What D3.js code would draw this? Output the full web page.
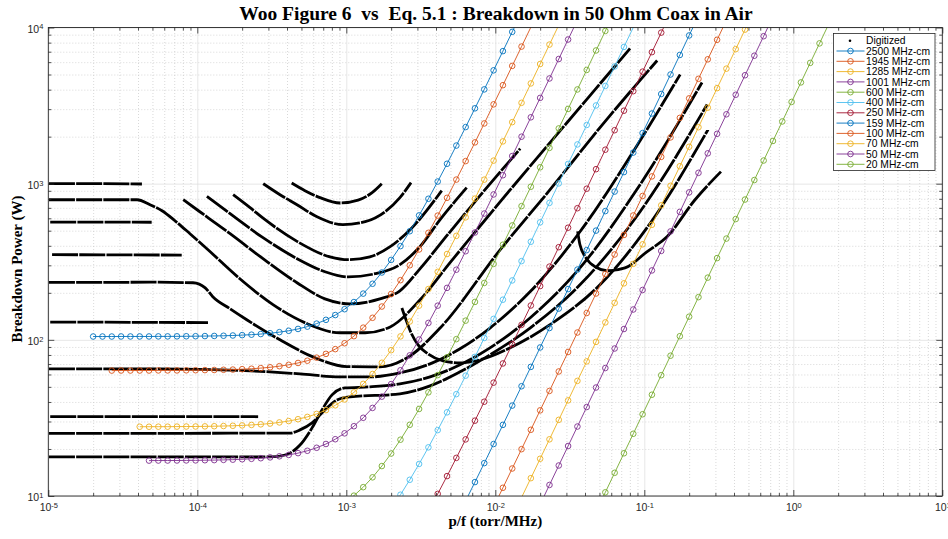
<!DOCTYPE html>
<html>
<head>
<meta charset="utf-8">
<script src="https://cdn.jsdelivr.net/npm/d3@7"></script>
<style>
  body { margin: 0; background: #fff; }
  svg { display: block; }
</style>
</head>
<body>
<div id="chart"></div>
<script>

// p/f values (torr/MHz) where the Eq. 5.1 curves have their markers
var pfGrid = [
  2.000e-5, 2.310e-5, 2.667e-5, 3.080e-5, 3.557e-5, 4.107e-5, 4.743e-5, 5.477e-5,
  6.325e-5, 7.303e-5, 8.434e-5, 9.739e-5, 1.125e-4, 1.299e-4, 1.500e-4, 1.732e-4,
  2.000e-4, 2.310e-4, 2.667e-4, 3.080e-4, 3.557e-4, 4.107e-4, 4.743e-4, 5.477e-4,
  6.325e-4, 7.303e-4, 8.434e-4, 9.739e-4, 1.125e-3, 1.299e-3, 1.500e-3, 1.732e-3,
  2.000e-3, 2.310e-3, 2.667e-3, 3.080e-3, 3.557e-3, 4.107e-3, 4.743e-3, 5.477e-3,
  6.325e-3, 7.303e-3, 8.434e-3, 9.739e-3, 1.125e-2, 1.299e-2, 1.500e-2, 1.732e-2,
  2.000e-2, 2.310e-2, 2.667e-2, 3.080e-2, 3.557e-2, 4.107e-2, 4.743e-2, 5.477e-2,
  6.325e-2, 7.303e-2, 8.434e-2, 9.739e-2, 0.1125, 0.1299, 0.1500, 0.1732,
  0.2000, 0.2310, 0.2667, 0.3080, 0.3557, 0.4107, 0.4743, 0.5477,
  0.6325, 0.7303, 0.8434, 0.9739, 1.125, 1.299, 1.500, 1.732
];

var fdLabels = ["2500 MHz-cm", "1945 MHz-cm", "1285 MHz-cm", "1001 MHz-cm", "600 MHz-cm", "400 MHz-cm",
  "250 MHz-cm", "159 MHz-cm", "100 MHz-cm", "70 MHz-cm", "50 MHz-cm", "20 MHz-cm"];

// index in pfGrid of the first marker of each curve
var fdStart = [0, 2, 5, 6, 26, 32, 36, 39, 43, 45, 48, 54];

// breakdown power (W) of each curve, one value per marker
var bp2500 = [105.0, 105.0, 105.0, 105.1, 105.1, 105.1, 105.1, 105.2, 105.2, 105.3, 105.4, 105.5, 105.7, 105.9,
  106.2, 106.6, 107.2, 107.9, 108.9, 110.2, 112.0, 114.3, 117.4, 121.5, 127.0, 134.3, 144.1, 157.1, 174.5, 197.7,
  228.6, 269.9, 324.9, 398.2, 496.0, 626.4, 800.3, 1032, 1341, 1754, 2304, 3037, 4015, 5319, 7058, 9377, 12469];
var bp1945 = [63.55, 63.6, 63.6, 63.6, 63.6, 63.7, 63.7, 63.7, 63.8, 63.9, 64.0, 64.1, 64.3, 64.5, 64.9, 65.3,
  65.9, 66.7, 67.8, 69.2, 71.1, 73.5, 76.9, 81.3, 87.2, 95.1, 105.6, 119.7, 138.4, 163.4, 196.7, 241.0, 300.2,
  379.1, 484.4, 624.6, 811.7, 1062, 1395, 1838, 2430, 3220, 4272, 5676, 7547, 10043];
var bp1285 = [27.77, 27.77, 27.79, 27.79, 27.82, 27.85, 27.87, 27.92, 27.98, 28.06, 28.16, 28.32, 28.51, 28.77,
  29.11, 29.59, 30.20, 31.02, 32.10, 33.55, 35.48, 38.07, 41.51, 46.10, 52.23, 60.40, 71.31, 85.84, 105.2, 131.0,
  165.5, 211.4, 272.6, 354.4, 463.3, 608.6, 802.4, 1061, 1405, 1865, 2477, 3294, 4384, 5837, 7774, 10358];
var bp1001 = [16.85, 16.87, 16.87, 16.88, 16.90, 16.91, 16.95, 16.98, 17.03, 17.09, 17.19, 17.30, 17.46, 17.67,
  17.96, 18.32, 18.82, 19.48, 20.36, 21.53, 23.10, 25.19, 27.98, 31.69, 36.65, 43.27, 52.09, 63.84, 79.52, 100.4,
  128.3, 165.5, 215.1, 281.2, 369.3, 486.9, 643.7, 852.7, 1132, 1503, 1999, 2660, 3542, 4717, 6285, 8376, 11164];
var bp600 = [8.30, 9.05, 10.05, 11.39, 13.17, 15.55, 18.71, 22.94, 28.57, 36.08, 46.10, 59.46, 77.27, 101.0, 132.7,
  174.9, 231.3, 306.4, 406.5, 540.1, 718.2, 955.8, 1273, 1695, 2258, 3009, 4011, 5347, 7128, 9503, 12670];
var bp400 = [8.32, 10.19, 12.70, 16.04, 20.49, 26.42, 34.34, 44.90, 58.97, 77.75, 102.8, 136.2, 180.7, 240.1, 319.2,
  424.8, 565.6, 753.3, 1004, 1338, 1783, 2376, 3168, 4224, 5631, 7509, 10012];
var bp250 = [8.00, 10.32, 13.41, 17.54, 23.04, 30.37, 40.15, 53.19, 70.58, 93.77, 124.7, 165.9, 220.9, 294.3, 392.1,
  522.5, 696.4, 928.3, 1238, 1650, 2200, 2933, 3911, 5215, 6954, 9273, 12365];
var bp159 = [7.09, 9.32, 12.28, 16.24, 21.52, 28.55, 37.93, 50.44, 67.12, 89.36, 119.0, 158.6, 211.3, 281.7, 375.5,
  500.5, 667.4, 889.8, 1186, 1582, 2109, 2813, 3751, 5001, 6670, 8894, 11860];
var bp100 = [8.51, 11.29, 15.00, 19.95, 26.55, 35.35, 47.08, 62.73, 83.59, 111.4, 148.5, 198.0, 264.0, 352.0, 469.3,
  625.8, 834.4, 1113, 1484, 1978, 2638, 3518, 4691, 6256, 8343, 11125];
var bp70 = [7.35, 9.78, 13.01, 17.32, 23.07, 30.74, 40.96, 54.59, 72.77, 97.02, 129.3, 172.5, 230.0, 306.6, 408.9,
  545.2, 727.0, 969.4, 1293, 1724, 2299, 3066, 4088, 5451, 7269, 9693, 12927];
var bp50 = [8.84, 11.77, 15.68, 20.90, 27.85, 37.13, 49.50, 65.99, 87.99, 117.3, 156.4, 208.6, 278.2, 370.9, 494.6,
  659.6, 879.5, 1173, 1564, 2086, 2781, 3709, 4946, 6595, 8795, 11728];
var bp20 = [7.92, 10.56, 14.08, 18.77, 25.03, 33.38, 44.51, 59.35, 79.14, 105.5, 140.7, 187.7, 250.2, 333.7, 445.0,
  593.4, 791.3, 1055, 1407, 1877, 2502, 3337, 4450, 5934, 7913, 10552];

var eqCurves = [bp2500, bp1945, bp1285, bp1001, bp600, bp400, bp250, bp159, bp100, bp70, bp50, bp20];

var dg1000 = [[1.01e-5, 1000], [2.2e-5, 1000], [4.25e-5, 995]];
var dg560 = [[1.03e-5, 568], [4.94e-5, 566]];
var dg350 = [[1.06e-5, 351], [7.86e-5, 349]];
var dg130 = [[1.03e-5, 130], [1.18e-4, 129]];
var dg32 = [[1.03e-5, 32.2], [2.56e-4, 32.2]];
var dgU1 = [[4.30e-4, 1010], [5.28e-4, 902], [6.66e-4, 814], [9.07e-4, 752], [1.20e-3, 784], [1.49e-3, 876], [1.73e-3, 1000]];
var dgU2 = [[2.77e-4, 1000], [3.59e-4, 850], [4.67e-4, 733], [6.36e-4, 614], [9.50e-4, 546], [1.34e-3, 571],
  [1.82e-3, 661], [2.29e-3, 814], [2.72e-3, 1015]];
var dgU3 = [[1.74e-4, 850], [2.26e-4, 702], [2.85e-4, 588], [4.67e-4, 427], [7.77e-4, 340], [1.03e-3, 326],
  [1.44e-3, 340], [1.97e-3, 395], [2.68e-3, 507], [4.37e-3, 902]];
var dgU4 = [[1.16e-4, 829], [1.66e-4, 642], [2.76e-4, 451], [4.67e-4, 331], [7.19e-4, 273], [1.03e-3, 253],
  [1.56e-3, 265], [2.29e-3, 303], [3.12e-3, 395], [4.26e-3, 588], [6.43e-3, 943]];
var dgU5 = [[8.05e-5, 789], [1.04e-4, 661], [1.66e-4, 478], [2.76e-4, 331], [4.67e-4, 232], [7.19e-4, 183],
  [1.06e-3, 170], [1.68e-3, 183], [2.29e-3, 206], [3.12e-3, 285], [4.97e-3, 492], [7.90e-3, 838], [1.47e-2, 1676]];
var dg790 = [[1.01e-5, 789], [2.22e-5, 789], [3.94e-5, 789], [4.82e-5, 733], [5.80e-5, 671], [7.08e-5, 579],
  [8.93e-5, 478], [1.16e-4, 383], [1.93e-4, 246], [3.22e-4, 168], [5.45e-4, 127], [9.07e-4, 111], [1.34e-3, 111],
  [1.97e-3, 121], [3.12e-3, 180], [4.97e-3, 312], [1.08e-2, 767], [2.33e-2, 1831], [4.32e-2, 3665], [8.02e-2, 7335]];
var dg230 = [[1.01e-5, 233], [2.22e-5, 233], [4.82e-5, 234], [9.36e-5, 232], [1.13e-4, 215], [1.27e-4, 189],
  [1.66e-4, 158], [2.16e-4, 134], [3.59e-4, 100], [5.98e-4, 77.8], [1.01e-3, 67.4], [1.68e-3, 67.1], [2.68e-3, 79.0],
  [4.26e-3, 119], [1.08e-2, 378], [2.33e-2, 915], [5.04e-2, 2286], [0.122, 6145]];
var dg65 = [[1.01e-5, 65.2], [4.82e-5, 65.2], [2.26e-4, 63.3], [4.89e-4, 60.5], [9.07e-4, 57.9], [1.44e-3, 57.9],
  [2.29e-3, 61.4], [3.65e-3, 70.2], [5.80e-3, 87.6], [9.21e-3, 119], [1.71e-2, 203], [3.70e-2, 492], [8.02e-2, 1490],
  [0.174, 4997]];
var dg18 = [[1.01e-5, 17.8], [4.82e-5, 17.8], [3.08e-4, 17.8], [3.88e-4, 18.3], [4.89e-4, 21.2], [5.89e-4, 27.3],
  [6.87e-4, 35.6], [8.02e-4, 44.4], [9.80e-4, 49.2], [1.44e-3, 50.0], [2.29e-3, 52.2], [3.65e-3, 57.9], [5.80e-3, 69.2],
  [9.21e-3, 88.9], [1.71e-2, 138], [3.70e-2, 289], [9.36e-2, 985], [0.244, 4440]];
var dg25 = [[1.01e-5, 25.2], [4.82e-5, 25.2], [4.19e-4, 25.3], [4.89e-4, 26.5], [5.89e-4, 29.4], [7.19e-4, 35.6],
  [8.66e-4, 41.2], [1.06e-3, 43.1], [2.29e-3, 45.1], [3.65e-3, 50.7], [5.80e-3, 62.4], [9.21e-3, 80.1], [1.71e-2, 119],
  [3.70e-2, 225], [9.36e-2, 661], [0.264, 3210]];
var dgHook1 = [[2.36e-3, 160], [2.52e-3, 134], [2.72e-3, 111], [3.03e-3, 92.9], [3.53e-3, 81.3], [4.46e-3, 73.3],
  [5.80e-3, 71.2], [7.90e-3, 74.4], [1.26e-2, 88.9], [2.33e-2, 125], [5.04e-2, 225], [0.109, 554], [0.268, 2220]];
var dgHook2 = [[3.57e-2, 495], [3.70e-2, 406], [4.06e-2, 335], [4.67e-2, 294], [5.71e-2, 277], [7.42e-2, 289],
  [0.104, 366], [0.142, 457], [0.219, 789], [0.327, 1194]];

var digitized = [dg1000, dg560, dg350, dg130, dg32, dgU1, dgU2, dgU3, dgU4, dgU5, dg790, dg230, dg65, dg18, dg25,
  dgHook1, dgHook2];

// matlab default colour order
var colors = ["#0072BD", "#D95319", "#EDB120", "#7E2F8E", "#77AC30", "#4DBEEE", "#A2142F",
  "#0072BD", "#D95319", "#EDB120", "#7E2F8E", "#77AC30"];

var width = 948,
    height = 539;
var pLeft = 48.3, pRight = 942.3, pTop = 27.5, pBottom = 496;
var axisColor = "#262626";

var svg = d3.select("#chart")
  .append("svg")
  .attr("width", width)
  .attr("height", height)
  .style("font-family", "'Liberation Sans', Arial, sans-serif");

var x = d3.scaleLog().domain([1e-5, 10]).range([pLeft, pRight]);
var y = d3.scaleLog().domain([10, 1e4]).range([pBottom, pTop]);

var xMajor = d3.range(-5, 2).map(function(e) { return Math.pow(10, e); });
var yMajor = d3.range(1, 5).map(function(e) { return Math.pow(10, e); });
var xMinor = [], yMinor = [];
d3.range(-5, 1).forEach(function(e) {
  for (var m = 2; m < 10; m++) xMinor.push(m * Math.pow(10, e));
});
d3.range(1, 4).forEach(function(e) {
  for (var m = 2; m < 10; m++) yMinor.push(m * Math.pow(10, e));
});

// grid
function gridAxis(axis, dash, col) {
  return function(g) {
    g.call(axis);
    g.select(".domain").remove();
    g.selectAll("line").attr("stroke", col).attr("stroke-width", 0.7).attr("stroke-dasharray", dash);
  };
}
svg.append("g").attr("transform", "translate(0," + pBottom + ")")
  .call(gridAxis(d3.axisBottom(x).tickValues(xMinor).tickSize(-(pBottom - pTop)).tickFormat(""), "1,2", "#c8c8c8"));
svg.append("g").attr("transform", "translate(" + pLeft + ",0)")
  .call(gridAxis(d3.axisLeft(y).tickValues(yMinor).tickSize(-(pRight - pLeft)).tickFormat(""), "1,2", "#c8c8c8"));
svg.append("g").attr("transform", "translate(0," + pBottom + ")")
  .call(gridAxis(d3.axisBottom(x).tickValues(xMajor).tickSize(-(pBottom - pTop)).tickFormat(""), null, "#dcdcdc"));
svg.append("g").attr("transform", "translate(" + pLeft + ",0)")
  .call(gridAxis(d3.axisLeft(y).tickValues(yMajor).tickSize(-(pRight - pLeft)).tickFormat(""), null, "#dcdcdc"));

// clip for the data
svg.append("clipPath").attr("id", "plotclip")
  .append("rect").attr("x", pLeft).attr("y", pTop).attr("width", pRight - pLeft).attr("height", pBottom - pTop);
var plot = svg.append("g").attr("clip-path", "url(#plotclip)");

var dgLine = d3.line()
  .x(function(d) { return x(d[0]); })
  .y(function(d) { return y(d[1]); })
  .curve(d3.curveMonotoneX);

plot.selectAll(".dg")
  .data(digitized)
  .enter()
  .append("path")
  .attr("class", "dg")
  .attr("d", dgLine)
  .attr("fill", "none")
  .attr("stroke", "#000")
  .attr("stroke-width", 2.8)
  .attr("stroke-dasharray", "26,1.2");

// Eq. 5.1 curves
var eqLine = d3.line()
  .x(function(d) { return x(d[0]); })
  .y(function(d) { return y(d[1]); });

eqCurves.forEach(function(vals, i) {
  var pts = vals.map(function(v, j) { return [pfGrid[fdStart[i] + j], v]; });
  plot.append("path")
    .datum(pts)
    .attr("d", eqLine)
    .attr("fill", "none")
    .attr("stroke", colors[i])
    .attr("stroke-width", 0.9);
  plot.selectAll(null)
    .data(pts.filter(function(d) { return d[1] >= 10 && d[1] <= 1e4; }))
    .enter()
    .append("circle")
    .attr("cx", function(d) { return x(d[0]); })
    .attr("cy", function(d) { return y(d[1]); })
    .attr("r", 2.8)
    .attr("fill", "none")
    .attr("stroke", colors[i])
    .attr("stroke-width", 0.9);
});

// axes with inward ticks on all four sides
function tickAxis(axis) {
  return function(g) {
    g.call(axis);
    g.select(".domain").remove();
    g.selectAll("line").attr("stroke", axisColor).attr("stroke-width", 0.8);
  };
}
svg.append("g").attr("transform", "translate(0," + pBottom + ")")
  .call(tickAxis(d3.axisBottom(x).tickValues(xMinor).tickSize(-3).tickFormat("")));
svg.append("g").attr("transform", "translate(0," + pTop + ")")
  .call(tickAxis(d3.axisTop(x).tickValues(xMinor).tickSize(-3).tickFormat("")));
svg.append("g").attr("transform", "translate(" + pLeft + ",0)")
  .call(tickAxis(d3.axisLeft(y).tickValues(yMinor).tickSize(-3).tickFormat("")));
svg.append("g").attr("transform", "translate(" + pRight + ",0)")
  .call(tickAxis(d3.axisRight(y).tickValues(yMinor).tickSize(-3).tickFormat("")));
svg.append("g").attr("transform", "translate(0," + pTop + ")")
  .call(tickAxis(d3.axisTop(x).tickValues(xMajor).tickSize(-6).tickFormat("")));
svg.append("g").attr("transform", "translate(" + pRight + ",0)")
  .call(tickAxis(d3.axisRight(y).tickValues(yMajor).tickSize(-6).tickFormat("")));

function expLabel(g) {
  g.selectAll(".tick text").each(function(d) {
    var e = Math.round(Math.log10(d));
    var t = d3.select(this).text("10").attr("fill", axisColor).attr("font-size", "10.5px");
    t.append("tspan").attr("dy", "-0.45em").attr("font-size", "7.5px").text(e);
  });
}
var xAx = svg.append("g").attr("transform", "translate(0," + pBottom + ")")
  .call(tickAxis(d3.axisBottom(x).tickValues(xMajor).tickSizeInner(-6).tickSizeOuter(0).tickPadding(11)));
xAx.call(expLabel);
var yAx = svg.append("g").attr("transform", "translate(" + pLeft + ",0)")
  .call(tickAxis(d3.axisLeft(y).tickValues(yMajor).tickSizeInner(-6).tickSizeOuter(0).tickPadding(11)));
yAx.call(expLabel);
yAx.selectAll(".tick text").attr("x", -5).attr("dy", "0.45em");
xAx.selectAll(".tick text").attr("dy", "0.95em").attr("y", 5);

svg.append("rect")
  .attr("x", pLeft).attr("y", pTop)
  .attr("width", pRight - pLeft).attr("height", pBottom - pTop)
  .attr("fill", "none")
  .attr("stroke", axisColor)
  .attr("stroke-width", 0.9);

// titles
svg.append("text")
  .attr("x", 496).attr("y", 20)
  .attr("text-anchor", "middle")
  .style("white-space", "pre")
  .attr("font-family", "'Liberation Serif', 'Times New Roman', serif")
  .attr("font-weight", "bold").attr("font-size", "19.5px")
  .text("Woo Figure 6  vs  Eq. 5.1 : Breakdown in 50 Ohm Coax in Air");
svg.append("text")
  .attr("x", (pLeft + pRight) / 2).attr("y", 526)
  .attr("text-anchor", "middle")
  .attr("font-family", "'Liberation Serif', 'Times New Roman', serif")
  .attr("font-weight", "bold").attr("font-size", "15px")
  .text("p/f (torr/MHz)");
svg.append("text")
  .attr("transform", "translate(22,269) rotate(-90)")
  .attr("text-anchor", "middle")
  .attr("font-family", "'Liberation Serif', 'Times New Roman', serif")
  .attr("font-weight", "bold").attr("font-size", "15px")
  .text("Breakdown Power (W)");

// legend
var legX = 833.5, legY = 33.5, rowH = 10.3;
var legend = svg.append("g");
legend.append("rect")
  .attr("x", legX).attr("y", legY)
  .attr("width", 101.5).attr("height", 137)
  .attr("fill", "#fff")
  .attr("stroke", axisColor)
  .attr("stroke-width", 0.8);
var legRows = ["Digitized"].concat(fdLabels);
legRows.forEach(function(label, i) {
  var cy = legY + 7.2 + i * rowH;
  if (i === 0) {
    legend.append("circle").attr("cx", legX + 16.5).attr("cy", cy).attr("r", 1.3).attr("fill", "#000");
  } else {
    legend.append("line")
      .attr("x1", legX + 3).attr("x2", legX + 31).attr("y1", cy).attr("y2", cy)
      .attr("stroke", colors[i - 1]).attr("stroke-width", 0.9);
    legend.append("circle").attr("cx", legX + 17).attr("cy", cy).attr("r", 2.8)
      .attr("fill", "none").attr("stroke", colors[i - 1]).attr("stroke-width", 0.9);
  }
  legend.append("text")
    .attr("x", legX + 32.5).attr("y", cy + 3.6)
    .attr("font-size", "10.3px")
    .attr("fill", "#000")
    .text(label);
});

</script>
</body>
</html>
